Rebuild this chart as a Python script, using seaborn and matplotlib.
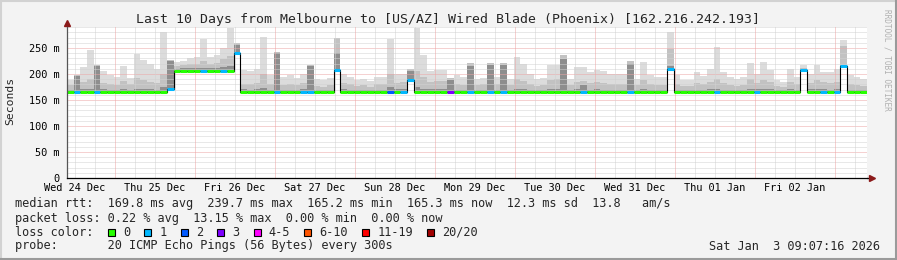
import numpy as np
import pandas as pd
import matplotlib
matplotlib.use("Agg")
import matplotlib.pyplot as plt
import matplotlib.dates as mdates
from matplotlib.patches import Rectangle
from matplotlib.lines import Line2D
import seaborn as sns

# ---------------- data (2-hour bins, values in ms) ----------------
start_time = "2025-12-24 09:36"
bin_hours = 2

smax = [188, 199, 214, 246, 218, 205, 198, 195, 216, 193,
        238, 226, 220, 209, 281, 227, 223, 225, 230, 232,
        268, 233, 236, 250, 288, 259, 208, 205, 210, 271,
        198, 243, 195, 198, 192, 200, 217, 190, 188, 192,
        269, 200, 195, 188, 190, 186, 194, 195, 268, 200,
        200, 210, 288, 237, 206, 208, 208, 192, 198, 195,
        221, 190, 192, 221, 195, 221, 191, 232, 220, 200,
        190, 192, 218, 218, 236, 191, 213, 213, 204, 208,
        205, 200, 200, 200, 225, 191, 223, 198, 194, 194,
        281, 198, 188, 188, 204, 196, 210, 252, 204, 194,
        191, 194, 221, 200, 223, 208, 188, 185, 210, 195,
        218, 200, 217, 204, 204, 210, 265, 198, 194, 190]

smid = [178, 199, 185, 190, 217, 182, 180, 178, 186, 180,
        192, 188, 184, 182, 200, 227, 215, 218, 220, 219,
        225, 220, 222, 228, 235, 259, 180, 180, 182, 200,
        180, 243, 178, 181, 178, 182, 217, 176, 175, 178,
        269, 182, 180, 176, 178, 175, 180, 180, 200, 182,
        184, 210, 205, 195, 185, 186, 186, 192, 180, 178,
        221, 178, 180, 221, 180, 221, 178, 190, 186, 180,
        176, 178, 188, 190, 236, 178, 185, 186, 182, 184,
        182, 180, 181, 180, 225, 178, 188, 180, 178, 178,
        249, 180, 176, 176, 182, 180, 185, 190, 182, 178,
        176, 178, 190, 182, 188, 184, 176, 175, 185, 180,
        212, 182, 188, 184, 182, 185, 254, 180, 178, 176]

slow = [170, 197, 171, 172, 215, 171, 170, 170, 172, 170,
        172, 171, 171, 170, 175, 225, 210, 211, 212, 211,
        212, 211, 212, 214, 215, 255, 171, 170, 171, 173,
        170, 240, 170, 170, 169, 171, 215, 169, 169, 170,
        240, 172, 170, 169, 169, 169, 170, 170, 175, 171,
        171, 205, 175, 172, 171, 171, 171, 188, 170, 170,
        215, 170, 170, 218, 170, 218, 170, 172, 172, 170,
        169, 170, 171, 172, 228, 170, 171, 178, 170, 171,
        170, 170, 170, 170, 220, 170, 172, 170, 170, 170,
        215, 170, 169, 169, 170, 170, 171, 172, 170, 170,
        169, 170, 172, 171, 172, 171, 169, 169, 171, 170,
        210, 171, 172, 171, 170, 171, 218, 170, 170, 169]

median = [165, 165, 165, 165, 165, 165, 165, 165, 165, 165,
          165, 165, 165, 165, 165, 172, 205, 205, 205, 205,
          205, 205, 205, 205, 205, 240, 165, 165, 165, 165,
          165, 165, 165, 165, 165, 165, 165, 165, 165, 165,
          208, 165, 165, 165, 165, 165, 165, 165, 165, 165,
          165, 188, 165, 165, 165, 165, 165, 165, 165, 165,
          165, 165, 165, 165, 165, 165, 165, 165, 165, 165,
          165, 165, 165, 165, 165, 165, 165, 165, 165, 165,
          165, 165, 165, 165, 165, 165, 165, 165, 165, 165,
          210, 165, 165, 165, 165, 165, 165, 165, 165, 165,
          165, 165, 165, 165, 165, 165, 165, 165, 165, 165,
          208, 165, 165, 165, 165, 165, 215, 165, 165, 165]

loss = [0, 1, 0, 0, 1, 0, 0, 0, 0, 0,
        0, 0, 0, 0, 0, 1, 0, 0, 0, 0,
        1, 0, 0, 1, 0, 1, 0, 0, 0, 0,
        0, 1, 0, 0, 0, 1, 1, 0, 0, 0,
        1, 0, 0, 0, 0, 0, 0, 0, 2, 0,
        1, 1, 0, 0, 0, 0, 0, 3, 0, 0,
        1, 0, 0, 1, 0, 1, 0, 0, 0, 0,
        0, 0, 0, 0, 0, 0, 0, 1, 0, 0,
        0, 0, 0, 0, 1, 0, 0, 0, 0, 0,
        1, 0, 0, 0, 0, 0, 0, 1, 0, 0,
        0, 0, 0, 1, 0, 0, 0, 0, 0, 0,
        1, 0, 0, 1, 0, 1, 1, 0, 0, 0]

title = "Last 10 Days from Melbourne to [US/AZ] Wired Blade (Phoenix) [162.216.242.193]"
y_ticks = [0, 50, 100, 150, 200, 250]
y_tick_labels = ["0", "50 m", "100 m", "150 m", "200 m", "250 m"]
y_max = 290.4
loss_labels = ["0", "1", "2", "3", "4-5", "6-10", "11-19", "20/20"]
loss_colors = ["#26ff00", "#00b8ff", "#0059ff", "#7e00ff",
               "#ff00ff", "#ff5500", "#ff0000", "#a10000"]
stats_lines = [
    "median rtt:  169.8 ms avg  239.7 ms max  165.2 ms min  165.3 ms now  12.3 ms sd  13.8   am/s",
    "packet loss: 0.22 % avg  13.15 % max  0.00 % min  0.00 % now",
    "loss color:",
    "probe:       20 ICMP Echo Pings (56 Bytes) every 300s",
]
timestamp = "Sat Jan  3 09:07:16 2026"
side_text = "RRDTOOL / TOBI OETIKER"

# ---------------- figure ----------------
sns.set_style("white")
plt.rcParams["font.family"] = ["DejaVu Sans Mono", "DejaVu Sans"]

W, H = 897, 260
fig = plt.figure(figsize=(W / 100, H / 100), dpi=100)
fig.patch.set_facecolor("#f3f3f3")

px0, px1, py_top, py_bot = 67, 867, 27, 178
ax = fig.add_axes([px0 / W, 1 - py_bot / H, (px1 - px0) / W, (py_bot - py_top) / H])
ax.set_facecolor("white")

n = len(median)
edges = pd.date_range(start_time, periods=n + 1, freq=f"{bin_hours}h")
xe = mdates.date2num(edges.to_pydatetime())

def ext(a):
    a = np.asarray(a, dtype=float)
    return np.append(a, a[-1])

med_e = ext(median)
ax.fill_between(xe, med_e, ext(smax), step="post", color="#dcdcdc", lw=0, zorder=1)
ax.fill_between(xe, med_e, ext(smid), step="post", color="#c2c2c2", lw=0, zorder=1.1)
ax.fill_between(xe, med_e, ext(slow), step="post", color="#8e8e8e", lw=0, zorder=1.2)

ax.set_xlim(xe[0], xe[-1])
ax.set_ylim(0, y_max)

# grid (dotted, as in rrdtool)
dot = (0, (1, 1))
for v in range(10, int(y_max) + 1, 10):
    col = "#eca5a5" if v % 50 == 0 else "#d2d2d2"
    ax.axhline(v, color=col, lw=0.72, ls=dot, zorder=2)
six_h = pd.date_range(edges[0].ceil("6h"), edges[-1], freq="6h")
for t in six_h:
    xv = mdates.date2num(t.to_pydatetime())
    col = "#eca5a5" if t.hour == 0 else "#d2d2d2"
    ax.axvline(xv, color=col, lw=0.72, ls=dot, zorder=2)

# median line: black steps, then loss-coloured segments
sns.lineplot(x=xe, y=med_e, drawstyle="steps-post", color="black", lw=0.8,
             estimator=None, sort=False, ax=ax, zorder=3)

def loss_index(l):
    if l <= 3:
        return l
    if l <= 5:
        return 4
    if l <= 10:
        return 5
    if l <= 19:
        return 6
    return 7

seg_colors = [loss_colors[loss_index(l)] for l in loss]
ax.hlines(median, xe[:-1], xe[1:], colors=seg_colors, lw=2.2, zorder=4)

# ticks
ax.set_yticks(y_ticks)
ax.set_yticklabels(y_tick_labels)
noons = pd.date_range(edges[0].ceil("12h"), edges[-1], freq="12h")
noons = [t for t in noons if t.hour == 12]
ax.set_xticks([mdates.date2num(t.to_pydatetime()) for t in noons])
ax.set_xticklabels([t.strftime("%a %d %b") for t in noons])
ax.tick_params(axis="both", length=0, labelsize=7.4, colors="black")
ax.tick_params(axis="y", pad=5.5)
ax.tick_params(axis="x", pad=3.5)
ax.set_xlabel("")
ax.set_ylabel("")

for s in ["top", "right"]:
    ax.spines[s].set_visible(False)
ax.spines["left"].set_color("#555555")
ax.spines["left"].set_linewidth(0.9)
ax.spines["bottom"].set_color("black")
ax.spines["bottom"].set_linewidth(0.9)
ax.spines["left"].set_zorder(5)
ax.spines["bottom"].set_zorder(5)

# axis extensions & arrows
ax.plot([1.0, 1.003], [0, 0], transform=ax.transAxes, color="black", lw=0.9, clip_on=False)
ax.plot([1.006], [0], transform=ax.transAxes, marker=">", ms=4, color="#8b1a1a",
        mec="#8b1a1a", clip_on=False)
ax.plot([0], [1.025], transform=ax.transAxes, marker="^", ms=4, color="#8b1a1a",
        mec="#8b1a1a", clip_on=False)

# texts
fig.text(448 / W, 1 - 19.3 / H, title, ha="center", va="center", fontsize=9.5)
fig.text(10 / W, 1 - 101 / H, "Seconds", rotation=90, ha="center", va="center", fontsize=8.2)
fig.text(887 / W, 1 - 60 / H, side_text, rotation=270, ha="center", va="center",
         fontsize=5.6, color="#b0b0b0")

cw = 7.14
x0 = 14.5
row_y = [204, 218.3, 232.3, 246]
for line, yy in zip(stats_lines, row_y):
    fig.text(x0 / W, 1 - yy / H, line, ha="left", va="center", fontsize=8.55)
fig.text(880 / W, 1 - 246 / H, timestamp, ha="right", va="center", fontsize=8.55)

c = 13.1
for lab, col in zip(loss_labels, loss_colors):
    bx = x0 + c * cw
    fig.patches.append(Rectangle((bx / W, 1 - (row_y[2] + 3.8) / H), 7 / W, 7.6 / H,
                                 transform=fig.transFigure, facecolor=col,
                                 edgecolor="black", lw=0.8))
    lc = c + 2.1
    fig.text((x0 + lc * cw) / W, 1 - row_y[2] / H, lab, ha="left", va="center", fontsize=8.55)
    c = lc + len(lab) + 2

# frame (3D border like rrdtool)
fig.add_artist(Line2D([0, 1], [1 - 1 / H, 1 - 1 / H], transform=fig.transFigure, color="#d2d2d2", lw=1.5))
fig.add_artist(Line2D([1 / W, 1 / W], [0, 1], transform=fig.transFigure, color="#d2d2d2", lw=1.5))
fig.add_artist(Line2D([0, 1], [1 / H, 1 / H], transform=fig.transFigure, color="#9a9a9a", lw=1.5))
fig.add_artist(Line2D([1 - 1 / W, 1 - 1 / W], [0, 1], transform=fig.transFigure, color="#9a9a9a", lw=1.5))

fig.savefig("out.png", dpi=100, facecolor=fig.get_facecolor())
